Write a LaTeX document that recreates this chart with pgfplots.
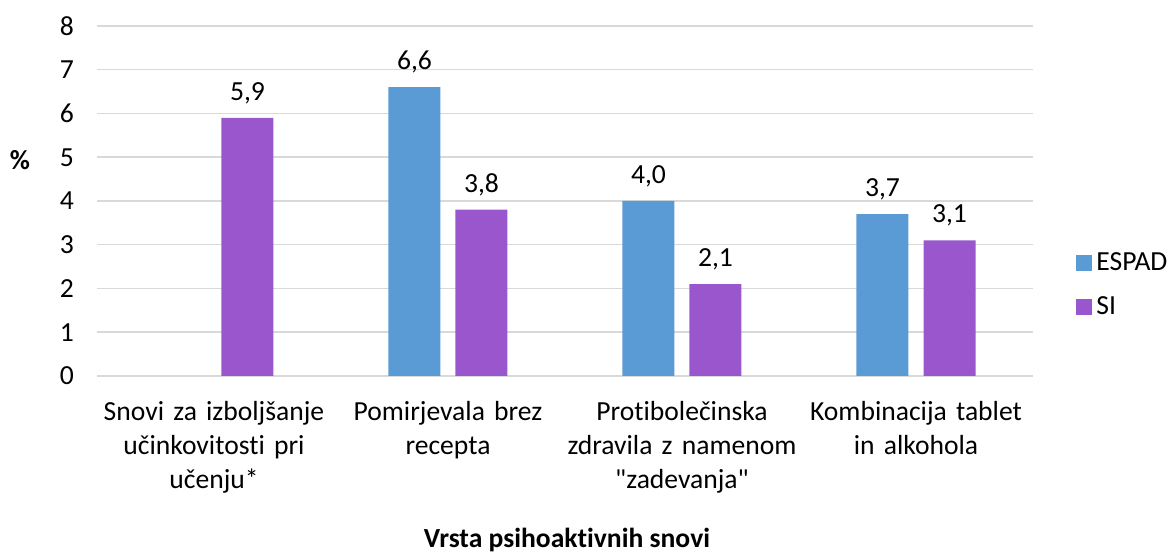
\documentclass[border=0pt]{standalone}
\usepackage{fontspec}
\setmainfont{Carlito}[Ligatures={NoCommon,TeXOff}]
\usepackage{pgfplots}
\pgfplotsset{compat=1.18}
\definecolor{espad}{HTML}{5B9BD5}
\definecolor{si}{HTML}{9A57CD}
\definecolor{gridc}{HTML}{D9D9D9}

\begin{document}
\begin{tikzpicture}[font=\fontsize{13.8}{17}\selectfont]
% 1 px of the reference = 0.5pt
\path[use as bounding box] (-48.5pt,-90.5pt) rectangle (539pt,188pt);
\begin{axis}[
    at={(0,0)}, anchor=south west,
    scale only axis, width=468pt, height=175pt,
    ybar=7.5pt, bar width=26pt,
    xmin=-0.5, xmax=3.5, ymin=0, ymax=8,
    xtick={0,1,2,3},
    xticklabels={
        {Snovi za izboljšanje\\učinkovitosti pri\\učenju*},
        {Pomirjevala brez\\recepta},
        {Protibolečinska\\zdravila z namenom\\"zadevanja"},
        {Kombinacija tablet\\in alkohola}},
    ytick={0,...,8},
    ymajorgrids, grid style={gridc, line width=0.75pt},
    axis x line*=bottom, axis y line*=left,
    y axis line style={draw=none},
    x axis line style={gridc, line width=0.75pt},
    major tick length=0,
    /pgf/number format/assume math mode=true,
    ticklabel style={font=\fontsize{13.8}{17}\selectfont},
    xticklabel style={align=center, text width=130pt, yshift=-9pt},
    yticklabel style={xshift=-8pt},
    nodes near coords={\pgfmathprintnumber[fixed,fixed zerofill,precision=1,use comma]{\pgfplotspointmeta}},
    nodes near coords style={font=\fontsize{13.8}{17}\selectfont, yshift=3.5pt},
    clip=false,
    xlabel={\bfseries Vrsta psihoaktivnih snovi},
    xlabel style={at={(axis description cs:0.502,0)}, anchor=center, yshift=-82pt},
    ylabel={\bfseries \%},
    ylabel style={rotate=-90, at={(axis description cs:0,0.617)}, anchor=center, xshift=-38.5pt},
    legend style={draw=none, at={(1,0.26)}, anchor=west, xshift=18.5pt,
        row sep=8pt, font=\fontsize{13.8}{17}\selectfont,
        /tikz/every even column/.append style={column sep=3pt}},
    legend cell align=left,
    legend image code/.code={\fill[#1] (0pt,-4pt) rectangle (8pt,4pt);},
]
\addplot[fill=espad, draw=none] coordinates {(1,6.6) (2,4.0) (3,3.7)};
\addplot[fill=si, draw=none] coordinates {(0,5.9) (1,3.8) (2,2.1) (3,3.1)};
\legend{ESPAD, SI}
\end{axis}
\end{tikzpicture}
\end{document}
